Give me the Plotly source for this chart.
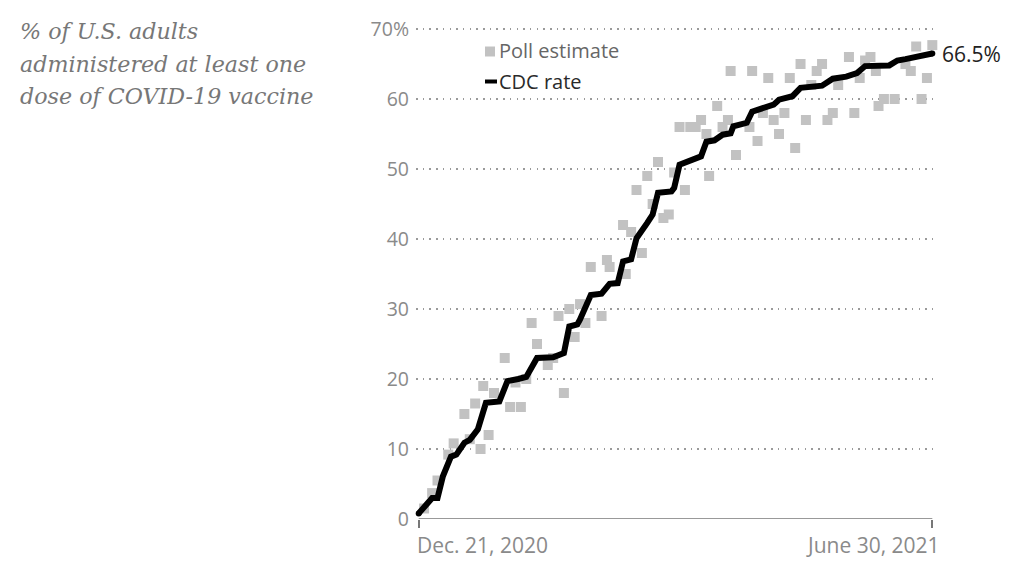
import plotly.graph_objects as go

# ---------------- data ----------------
title_lines = ["% of U.S. adults", "administered at least one", "dose of COVID-19 vaccine"]

cdc_dates = [
    "2020-12-21", "2020-12-26", "2020-12-28", "2020-12-30", "2021-01-02", "2021-01-04",
    "2021-01-07", "2021-01-09", "2021-01-12", "2021-01-15", "2021-01-20", "2021-01-23",
    "2021-01-27", "2021-01-30", "2021-02-03", "2021-02-09", "2021-02-13", "2021-02-15",
    "2021-02-18", "2021-02-19", "2021-02-23", "2021-02-27", "2021-03-02", "2021-03-05",
    "2021-03-07", "2021-03-10", "2021-03-12", "2021-03-13", "2021-03-16", "2021-03-18",
    "2021-03-20", "2021-03-25", "2021-03-26", "2021-03-28", "2021-03-30", "2021-04-02",
    "2021-04-05", "2021-04-07", "2021-04-10", "2021-04-13", "2021-04-16", "2021-04-17",
    "2021-04-22", "2021-04-24", "2021-04-28", "2021-05-02", "2021-05-04", "2021-05-09",
    "2021-05-12", "2021-05-15", "2021-05-20", "2021-05-24", "2021-05-29", "2021-06-02",
    "2021-06-05", "2021-06-14", "2021-06-17", "2021-06-20", "2021-06-24", "2021-06-28",
    "2021-06-30",
]
cdc_values = [
    0.8, 3.0, 3.0, 6.1, 8.9, 9.2,
    10.9, 11.3, 12.8, 16.6, 16.8, 19.7,
    20.0, 20.3, 23.0, 23.1, 23.7, 27.5,
    27.8, 28.5, 32.0, 32.2, 33.6, 33.7,
    36.8, 37.1, 40.1, 40.6, 42.3, 43.5,
    46.6, 46.8, 47.3, 50.6, 50.9, 51.4,
    51.8, 53.9, 54.1, 54.9, 55.1, 56.1,
    56.6, 58.2, 58.7, 59.2, 59.9, 60.4,
    61.6, 61.7, 61.9, 62.9, 63.2, 63.7,
    64.7, 64.8, 65.5, 65.7, 66.1, 66.3,
    66.5,
]

poll_dates = [
    "2020-12-23", "2020-12-26", "2020-12-28", "2021-01-01", "2021-01-03", "2021-01-07",
    "2021-01-09", "2021-01-11", "2021-01-13", "2021-01-14", "2021-01-16", "2021-01-18",
    "2021-01-22", "2021-01-24", "2021-01-26", "2021-01-28", "2021-01-30", "2021-02-01",
    "2021-02-03", "2021-02-07", "2021-02-09", "2021-02-13", "2021-02-11", "2021-02-15",
    "2021-02-17", "2021-02-19", "2021-02-21", "2021-02-27", "2021-02-23", "2021-03-01",
    "2021-03-02", "2021-03-08", "2021-03-07", "2021-03-10", "2021-03-14", "2021-03-12",
    "2021-03-16", "2021-03-20", "2021-03-18", "2021-03-22", "2021-03-24", "2021-03-26",
    "2021-03-30", "2021-04-08", "2021-04-18", "2021-03-28", "2021-04-01", "2021-04-03",
    "2021-04-05", "2021-04-07", "2021-04-11", "2021-04-13", "2021-04-15", "2021-04-16",
    "2021-04-23", "2021-04-24", "2021-04-26", "2021-04-28", "2021-04-30", "2021-05-02",
    "2021-05-04", "2021-05-06", "2021-05-08", "2021-05-10", "2021-05-12", "2021-05-14",
    "2021-05-16", "2021-05-18", "2021-05-20", "2021-05-22", "2021-05-24", "2021-05-26",
    "2021-05-30", "2021-06-01", "2021-06-03", "2021-06-05", "2021-06-07", "2021-06-09",
    "2021-06-10", "2021-06-12", "2021-06-16", "2021-06-20", "2021-06-22", "2021-06-24",
    "2021-06-26", "2021-06-28", "2021-06-30",
]
poll_values = [
    1.5, 3.7, 5.5, 9.2, 10.8, 15,
    11.4, 16.5, 10, 19, 12, 18,
    23, 16, 19.5, 16, 20, 28,
    25, 22, 23, 18, 29, 30,
    26, 30.7, 28, 29, 36, 37,
    36, 35, 42, 41, 38, 47,
    49, 51, 45, 43, 43.5, 49.5,
    47, 49, 52, 56, 56, 56,
    57, 55, 59, 56, 57, 64,
    56, 64, 54, 58, 63, 57,
    55, 58, 63, 53, 65, 57,
    62, 64, 65, 57, 58, 62,
    66, 58, 63, 65.5, 66, 64,
    59, 60, 60, 65, 64, 67.5,
    60, 63, 67.7,
]

y_tickvals = [0, 10, 20, 30, 40, 50, 60, 70]
y_ticktext = ["0", "10", "20", "30", "40", "50", "60", "70%"]
x_tick_dates = ["2020-12-21", "2021-06-30"]
x_tick_labels = ["Dec. 21, 2020", "June 30, 2021"]
legend_labels = ["Poll estimate", "CDC rate"]
end_label = "66.5%"

# ---------------- layout helpers ----------------
W, H = 1024, 577
L, R, T, B = 416, 89, 22, 58
PW, PH = W - L - R, H - T - B


def px_x(px):
    return (px - L) / PW


def px_y(py):
    return (H - B - py) / PH


SANS = "Open Sans, Arial, sans-serif"
SERIF = "DejaVu Serif, Georgia, serif"
POLL_COLOR = "#c2c2c2"

fig = go.Figure()

fig.add_trace(go.Scatter(
    x=poll_dates, y=poll_values, mode="markers", name=legend_labels[0],
    marker=dict(symbol="square", size=10, color=POLL_COLOR),
    cliponaxis=False, hoverinfo="x+y",
))
fig.add_trace(go.Scatter(
    x=cdc_dates, y=cdc_values, mode="lines", name=legend_labels[1],
    line=dict(color="#000000", width=6),
    hoverinfo="x+y",
))
# round end caps of the line
fig.add_trace(go.Scatter(
    x=[cdc_dates[0], cdc_dates[-1]], y=[cdc_values[0], cdc_values[-1]],
    mode="markers", marker=dict(symbol="circle", size=6, color="#000000"),
    cliponaxis=False, hoverinfo="skip", showlegend=False,
))

annotations = []
# title
title_centers = [31, 63.5, 96]
for line, cy in zip(title_lines, title_centers):
    annotations.append(dict(
        xref="paper", yref="paper", x=px_x(18), y=px_y(cy), xanchor="left", yanchor="middle",
        text=f"<i>{line}</i>", showarrow=False,
        font=dict(family=SERIF, size=22.2, color="#777777"),
    ))
# x tick labels
annotations.append(dict(
    xref="x", yref="paper", x=x_tick_dates[0], y=px_y(545), xanchor="left", yanchor="middle",
    xshift=-4, text=x_tick_labels[0], showarrow=False,
    font=dict(family=SANS, size=21, color="#8a8a8a"),
))
annotations.append(dict(
    xref="x", yref="paper", x=x_tick_dates[1], y=px_y(545), xanchor="right", yanchor="middle",
    xshift=10, text=x_tick_labels[1], showarrow=False,
    font=dict(family=SANS, size=21, color="#8a8a8a"),
))
# end label
annotations.append(dict(
    xref="x", yref="y", x=cdc_dates[-1], y=cdc_values[-1], xanchor="left", yanchor="middle",
    xshift=8, text=end_label, showarrow=False,
    font=dict(family=SANS, size=21, color="#222222"),
))
# legend texts
annotations.append(dict(
    xref="paper", yref="paper", x=px_x(497), y=px_y(50), xanchor="left", yanchor="middle",
    text=legend_labels[0], showarrow=False, font=dict(family=SANS, size=20, color="#666666"),
))
annotations.append(dict(
    xref="paper", yref="paper", x=px_x(497), y=px_y(81), xanchor="left", yanchor="middle",
    text=legend_labels[1], showarrow=False, font=dict(family=SANS, size=20, color="#2a2a2a"),
))

shapes = [
    # baseline axis between the two end ticks
    dict(type="line", xref="x", yref="y", x0=x_tick_dates[0], x1=x_tick_dates[1], y0=0, y1=0,
         line=dict(color="#777777", width=1.5), layer="above"),
    # legend glyphs
    dict(type="rect", xref="paper", yref="paper", x0=px_x(485), x1=px_x(495),
         y0=px_y(56.5), y1=px_y(46.5), fillcolor=POLL_COLOR, line=dict(width=0)),
    dict(type="line", xref="paper", yref="paper", x0=px_x(485), x1=px_x(497),
         y0=px_y(81.5), y1=px_y(81.5), line=dict(color="#000000", width=4)),
]

fig.update_layout(
    width=W, height=H,
    margin=dict(l=L, r=R, t=T, b=B, pad=0),
    paper_bgcolor="white", plot_bgcolor="white",
    showlegend=False,
    annotations=annotations, shapes=shapes,
    xaxis=dict(
        type="date", range=["2020-12-20", "2021-07-01"],
        tickvals=x_tick_dates, showticklabels=False,
        ticks="outside", ticklen=8, tickwidth=1.5, tickcolor="#777777",
        showgrid=False, zeroline=False, showline=False, fixedrange=True,
    ),
    yaxis=dict(
        range=[0, 71], tickvals=y_tickvals, ticktext=y_ticktext,
        showgrid=True, gridcolor="#9a9a9a", gridwidth=1.5, griddash="1.5px,5.2px",
        zeroline=False, showline=False, ticks="", ticklabelstandoff=6,
        tickfont=dict(family=SANS, size=19.5, color="#8a8a8a"), fixedrange=True,
    ),
)

fig.write_html("out.html", config={"displayModeBar": False},
               post_script="document.body.style.margin='0';")
